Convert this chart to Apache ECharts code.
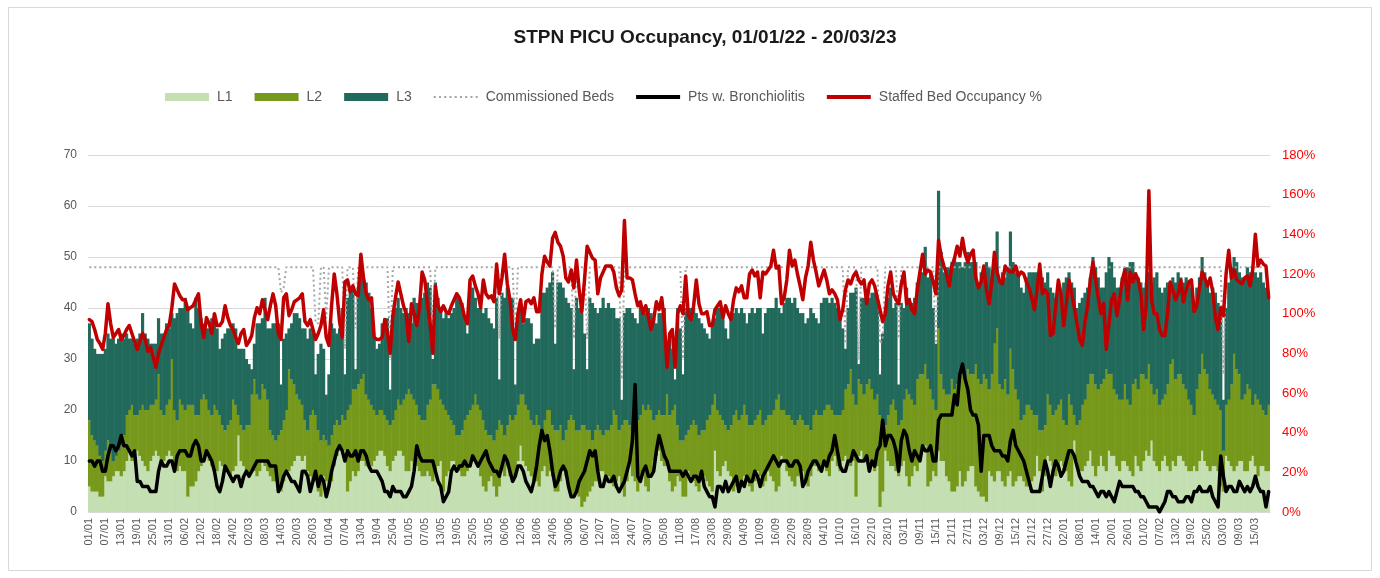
<!DOCTYPE html>
<html>
<head>
<meta charset="utf-8">
<script src="https://cdn.jsdelivr.net/npm/echarts@6/dist/echarts.min.js"></script>
<style>
html,body{margin:0;padding:0;background:#ffffff;}
#chart{width:1380px;height:578px;}
</style>
</head>
<body>
<div id="chart"></div>
<script>
// ---- Data (one value per day 01/01/22 - 20/03/23) ----
const titleText = 'STPN PICU Occupancy, 01/01/22 - 20/03/23';
const firstDay = Date.UTC(2022, 0, 1);
const dayCount = 444;
const categories = [];
for (let i = 0; i < dayCount; i++) {
  const d = new Date(firstDay + i * 86400000);
  categories.push(String(d.getUTCDate()).padStart(2, '0') + '/' + String(d.getUTCMonth() + 1).padStart(2, '0'));
}

const L1 = [
5,4,4,4,3,3,7,6,6,7,8,8,7,8,10,12,10,10,12,11,10,9,8,10,11,12,11,10,10,11,12,11,9,8,9,8,8,3,5,5,6,8,9,11,11,10,9,8,8,
10,9,8,8,7,8,9,15,10,9,8,7,8,8,7,8,10,9,8,7,6,6,5,4,6,8,8,9,10,11,11,10,11,8,7,6,6,4,3,7,6,5,6,9,11,12,12,12,
4,6,8,7,8,10,10,9,9,9,10,11,12,12,11,9,8,10,11,12,12,11,8,8,10,9,9,8,7,7,8,7,6,8,9,10,4,7,8,10,10,9,8,7,7,8,9,10,10,
9,7,5,4,6,7,5,3,5,8,7,9,7,6,7,10,13,10,9,8,7,6,6,5,8,9,7,8,7,4,4,6,8,7,5,4,3,4,3,1,2,3,4,5,6,6,8,8,7,
7,6,5,6,7,5,3,6,10,7,6,4,6,8,5,4,7,10,11,12,10,9,9,6,4,5,7,6,3,3,8,7,6,5,4,6,7,6,5,4,12,8,7,9,10,8,7,4,5,
5,6,7,6,5,4,6,8,7,5,6,8,7,6,4,5,11,10,8,7,6,5,7,8,8,6,5,7,9,9,8,9,10,8,7,10,11,9,8,10,11,10,9,10,3,11,12,10,11,
10,9,8,9,1,4,12,10,9,9,8,7,9,10,7,5,7,9,8,11,12,13,5,6,8,7,12,10,10,7,6,4,4,5,8,5,6,8,9,9,5,4,3,3,2,8,7,6,8,
8,6,5,7,8,5,6,7,7,6,5,5,6,7,11,8,4,7,11,10,9,7,8,10,9,8,6,5,14,10,8,8,9,10,12,9,7,9,11,9,8,12,11,11,9,8,10,10,
9,8,7,11,9,8,10,12,11,14,10,9,8,10,11,9,8,10,9,11,11,10,9,8,8,9,8,10,12,10,9,8,9,9,8,5,4,11,10,9,8,9,10,10,8,8,10,11,9,7,9,9,8,8
];

const L2 = [
13,11,10,9,8,7,5,8,6,3,3,4,6,7,9,8,11,9,7,9,11,11,12,11,10,10,16,10,9,10,10,19,11,10,13,13,12,18,16,16,13,11,13,12,11,10,10,13,12,
9,8,8,9,11,14,12,4,7,7,9,10,15,18,16,14,15,15,14,9,9,8,10,12,12,12,20,17,15,12,11,11,7,8,12,14,13,12,11,8,8,8,9,8,7,5,7,6,
16,15,16,17,17,16,17,14,13,12,10,8,8,8,8,9,9,8,9,10,9,11,15,16,13,13,12,11,11,11,13,15,19,17,15,12,17,13,11,8,7,6,7,9,11,11,11,11,13,
12,13,13,12,9,8,9,13,13,9,8,8,12,12,12,11,10,13,12,12,11,11,13,12,8,9,13,12,10,12,12,11,6,9,13,15,15,12,13,16,15,13,12,9,10,11,8,7,9,
9,11,15,13,9,12,15,12,7,9,10,14,13,13,15,17,13,8,8,8,9,10,14,13,16,16,10,8,11,12,8,10,12,12,11,10,9,12,14,17,11,12,12,9,7,8,10,15,15,
13,13,14,13,12,13,12,11,13,12,12,11,12,14,18,18,9,10,11,12,12,12,11,11,10,11,12,9,10,11,11,10,10,13,14,10,8,10,11,10,13,15,19,13,18,15,13,13,14,
16,15,14,14,18,14,5,9,12,13,12,10,9,12,17,18,15,12,18,16,15,16,21,18,14,13,24,17,14,16,17,22,20,20,19,22,20,20,18,18,24,22,22,24,24,16,20,27,28,
17,18,21,16,24,23,18,15,11,13,16,16,14,12,8,8,12,10,12,11,10,13,13,12,9,9,17,16,5,7,10,13,13,15,15,18,18,15,14,17,20,15,16,13,14,14,12,15,
13,13,18,15,15,19,17,14,18,11,13,15,13,12,12,16,21,20,17,16,16,15,15,14,13,10,16,17,19,18,18,16,14,13,13,15,8,10,12,16,23,19,17,12,15,17,14,10,14,15,12,11,11,13
];

const L3 = [
19,19,18,18,20,21,20,21,22,24,22,22,22,19,16,14,13,14,15,15,18,15,14,12,12,11,11,15,16,16,14,9,18,21,18,19,22,19,16,15,23,21,16,14,14,16,19,18,16,
13,17,19,19,18,15,15,13,15,16,13,12,5,7,14,15,13,18,14,20,22,23,22,9,16,15,8,11,14,16,16,15,18,18,17,15,8,15,19,17,9,14,22,19,17,19,21,9,
22,23,20,4,19,21,19,22,21,19,14,13,13,17,19,20,7,19,20,20,19,17,17,15,14,20,20,21,24,25,24,22,5,20,18,18,17,19,19,21,23,28,27,25,20,16,25,23,19,
19,20,21,24,23,22,22,26,8,26,27,27,22,24,6,17,17,14,17,18,19,16,15,17,27,25,24,25,30,17,29,28,30,26,23,21,10,26,24,22,18,12,26,27,24,22,24,27,24,
25,23,20,19,22,5,21,22,23,23,22,19,22,19,19,19,19,20,18,19,20,21,7,15,12,5,23,22,13,25,24,23,22,22,23,21,20,17,15,16,15,20,21,20,19,18,21,20,20,
21,21,18,18,22,23,21,21,20,18,21,21,21,20,20,17,19,21,23,23,23,25,22,20,21,20,21,24,20,18,18,22,22,21,20,22,22,21,20,16,8,15,15,20,23,3,17,19,16,
16,19,21,19,8,17,23,23,23,18,21,8,23,18,20,19,19,21,19,20,20,23,20,23,18,13,27,24,23,25,25,23,26,24,22,21,23,23,22,22,20,19,22,21,23,24,19,15,19,
20,23,20,25,23,21,23,25,26,24,25,26,27,28,28,30,30,28,24,23,24,22,22,21,27,29,24,24,25,23,23,21,21,19,19,23,23,22,19,18,19,23,22,22,21,22,24,23,
26,28,24,21,22,18,17,19,18,20,23,23,23,21,21,20,16,16,19,20,19,20,22,23,23,20,20,19,19,19,18,19,21,21,20,19,10,19,23,23,19,21,20,24,23,23,23,26,24,24,26,25,25,21
];

const commissionedBeds = [
48,48,48,48,48,48,48,48,48,48, 48,48,48,48,48,48,48,48,48,48, 48,48,48,48,48,48,48,48,48,48, 48,48,48,48,48,48,48,48,48,48,
48,48,48,48,48,48,48,48,48,48, 48,48,48,48,48,48,48,48,48,48, 48,48,48,48,48,48,48,48,48,48, 48,48,43,44,48,48,48,48,48,48,
48,48,48,48,48,37,37,48,48,38, 48,48,48,48,48,48,32,48,48,48, 36,48,48,48,48,48,48,48,48,48, 48,48,48,30,48,48,48,48,48,48,
48,48,48,48,48,48,48,48,48,36, 48,48,48,48,48,48,48,48,48,48, 48,48,48,48,48,48,48,48,48,48, 48,48,48,48,34,48,48,48,48,48,
34,48,48,48,48,48,48,48,48,48, 48,48,48,48,48,36,48,48,48,48, 48,48,34,48,48,48,48,34,48,48, 48,48,48,48,48,48,48,48,48,48,
26,48,48,48,48,48,48,48,48,48, 48,48,48,48,48,48,48,48,48,48, 48,48,48,30,48,48,48,48,48,48, 48,48,48,48,48,48,48,48,48,48,
48,48,48,48,48,48,48,48,48,48, 48,48,48,48,48,48,48,48,48,48, 48,48,48,48,48,48,48,48,48,48, 48,48,48,48,48,48,48,48,48,48,
48,48,48,48,33,48,48,48,48,30, 48,48,48,48,48,48,48,33,34,48, 48,48,48,48,34,48,48,48,48,48, 48,48,48,48,48,48,48,48,33,48,
48,48,48,48,48,48,48,48,48,48, 48,48,48,48,48,48,48,48,48,48, 48,48,48,48,48,48,48,48,48,48, 48,48,48,48,48,48,48,48,48,48,
48,48,48,48,48,48,48,48,48,48, 48,48,48,48,48,48,48,48,48,48, 48,48,48,48,48,48,48,48,48,48, 48,48,48,48,48,48,48,48,48,48,
48,48,48,48,48,48,48,48,48,48, 48,48,48,48,48,48,48,48,48,48, 48,48,48,48,48,48,27,48,48,48, 48,48,48,48,48,48,48,48,48,48,
48,48,48,48
];

const bronchiolitis = [
10,10,9,10,10,8,8,11,13,13,12,13,15,13,13,12,11,12,6,6,5,5,5,4,4,4,8,10,9,9,10,10,8,11,12,12,12,11,11,13,14,13,10,10,12,11,10,8,5,
4,6,9,8,7,6,7,7,5,7,8,7,8,9,10,10,10,10,10,9,9,9,4,5,7,8,7,6,6,5,4,8,8,7,4,6,8,5,7,6,3,5,8,10,12,13,12,10,
12,11,11,12,10,12,12,11,9,8,8,8,7,6,4,4,3,5,4,4,4,3,3,4,5,8,13,11,10,10,10,10,10,8,6,5,2,3,4,8,9,8,9,9,10,9,9,11,10,
9,10,11,12,10,9,8,8,7,9,11,10,8,6,7,9,9,8,6,5,4,6,9,13,16,14,15,12,8,5,6,8,9,8,5,3,3,4,6,7,8,10,12,11,12,8,5,5,7,
6,6,7,5,4,5,6,8,10,14,25,7,6,8,9,7,7,8,12,15,13,11,10,8,8,8,8,8,7,8,7,6,7,7,6,8,5,4,3,3,1,5,5,4,6,4,5,6,7,
4,6,5,7,6,6,8,7,5,7,8,9,10,11,10,9,10,10,10,9,9,10,10,9,5,6,8,9,10,10,9,8,10,9,11,12,15,12,9,8,8,10,10,12,11,10,10,10,11,
8,10,9,12,13,18,13,15,15,14,12,8,14,16,15,12,10,12,11,10,13,12,12,13,10,10,18,19,19,19,19,19,23,21,27,29,26,24,20,19,19,17,8,15,15,15,13,12,12,
12,11,11,10,14,16,13,12,11,10,8,6,4,4,4,4,7,10,8,5,8,10,9,7,8,10,12,12,11,9,7,6,6,6,5,5,4,3,4,4,3,4,3,2,4,6,5,5,
5,5,5,4,4,3,3,2,1,1,1,1,0,1,2,4,4,3,3,2,2,2,3,3,2,4,4,5,4,4,4,5,3,2,1,11,7,4,5,5,4,4,6,5,4,5,4,5,7,5,4,4,1,4
];

const occupancyPct = [
97,96,92,87,85,82,90,105,95,88,90,92,87,89,92,94,90,86,82,86,90,87,81,83,78,73,80,84,88,92,94,103,115,112,109,107,107,102,103,104,107,110,95,88,98,95,90,100,94,
94,96,104,98,94,92,88,85,90,92,84,86,89,98,103,100,107,102,97,104,110,104,90,87,108,110,99,102,106,107,108,110,96,94,97,92,87,90,94,102,88,84,104,120,110,96,88,116,
117,111,114,110,109,130,118,110,107,108,88,87,87,88,97,90,80,99,108,116,110,104,100,86,105,100,94,103,121,117,105,95,80,114,104,101,104,101,100,104,107,110,108,104,98,95,117,119,114,
110,103,117,110,108,109,106,125,110,118,130,115,107,92,87,100,107,96,106,107,105,108,101,101,120,129,126,124,138,141,136,134,129,118,116,122,113,127,112,101,117,134,131,128,127,110,118,121,124,
124,124,121,113,109,112,147,118,118,117,110,104,106,100,104,98,92,97,106,102,108,96,73,90,92,73,100,104,100,119,99,97,104,117,105,100,100,101,94,94,102,104,106,98,104,100,97,107,113,
111,114,108,108,120,122,119,121,108,121,120,122,124,132,123,124,105,108,117,132,124,127,120,114,107,118,124,136,127,121,114,118,122,117,110,112,110,107,97,102,112,117,115,119,121,117,115,117,105,
115,117,114,108,102,96,100,114,121,110,107,105,115,121,105,107,102,100,112,121,130,120,122,121,116,110,137,129,124,120,114,124,128,134,129,138,130,126,130,132,118,113,116,124,112,105,116,131,121,
116,115,124,122,121,121,124,119,121,120,116,113,108,102,112,125,110,112,110,89,90,104,117,110,94,105,117,110,103,95,87,84,96,104,117,126,117,108,100,105,82,95,107,110,99,107,117,122,
107,121,116,120,117,110,92,104,162,107,100,100,92,89,89,100,116,112,107,110,117,106,112,116,117,101,104,113,121,118,114,118,111,98,92,103,99,120,132,118,122,117,116,115,118,119,114,122,140,124,127,125,124,108
];

const leftTicks = {min: 0, max: 70, interval: 10};
const rightTicks = {min: 0, max: 180, interval: 20};

// ---- Chart ----
const FONT = 'Liberation Sans, Arial, sans-serif';
const solidIcon = 'path://M0 0H44V4H0Z';
const dottedIcon = 'path://M0 0h2v2h-2z M5 0h2v2h-2z M10 0h2v2h-2z M15 0h2v2h-2z M20 0h2v2h-2z M25 0h2v2h-2z M30 0h2v2h-2z M35 0h2v2h-2z M40 0h2v2h-2z';
const chart = echarts.init(document.getElementById('chart'), null, {renderer: 'canvas'});
chart.setOption({
  animation: false,
  backgroundColor: '#ffffff',
  textStyle: {fontFamily: FONT},
  title: {
    text: titleText,
    left: 700, top: 23, textAlign: 'center',
    textStyle: {fontFamily: FONT, fontSize: 19, fontWeight: 'bold', color: '#1a1a1a'}
  },
  graphic: [{
    type: 'rect', silent: true, z: -10,
    shape: {x: 8.5, y: 7.5, width: 1363, height: 563},
    style: {fill: 'none', stroke: '#d9d9d9', lineWidth: 1}
  }],
  legend: {
    left: 165, top: 90, padding: 0,
    itemWidth: 44, itemHeight: 8, itemGap: 22,
    symbolKeepAspect: true,
    textStyle: {fontFamily: FONT, fontSize: 14, color: '#595959', padding: [0, 0, 0, 3]},
    data: [
      {name: 'L1', icon: 'rect'},
      {name: 'L2', icon: 'rect'},
      {name: 'L3', icon: 'rect'},
      {name: 'Commissioned Beds', icon: dottedIcon},
      {name: 'Pts w. Bronchiolitis', icon: solidIcon},
      {name: 'Staffed Bed Occupancy %', icon: solidIcon}
    ]
  },
  grid: {left: 88, right: 110, top: 155, bottom: 66, containLabel: false},
  xAxis: {
    type: 'category',
    data: categories,
    boundaryGap: true,
    axisLine: {show: true, lineStyle: {color: '#d9d9d9'}},
    axisTick: {show: false},
    axisLabel: {rotate: 90, interval: 5, fontSize: 11, color: '#595959', margin: 6, fontFamily: FONT}
  },
  yAxis: [{
    type: 'value', min: leftTicks.min, max: leftTicks.max, interval: leftTicks.interval,
    axisLine: {show: false}, axisTick: {show: false},
    axisLabel: {fontSize: 12, color: '#595959', margin: 11, fontFamily: FONT},
    splitLine: {show: true, lineStyle: {color: '#d9d9d9', width: 1}}
  }, {
    type: 'value', min: rightTicks.min, max: rightTicks.max, interval: rightTicks.interval,
    position: 'right',
    axisLine: {show: false}, axisTick: {show: false},
    axisLabel: {fontSize: 13, color: '#ff0000', margin: 12, formatter: '{value}%', fontFamily: FONT},
    splitLine: {show: false}
  }],
  series: [
    {name: 'L1', type: 'bar', stack: 'occ', data: L1, barWidth: 3.2,
     color: '#c4dfb2', itemStyle: {color: '#c4dfb2'}},
    {name: 'L2', type: 'bar', stack: 'occ', data: L2, barWidth: 3.2,
     color: '#76981b', itemStyle: {color: '#76981b'}},
    {name: 'L3', type: 'bar', stack: 'occ', data: L3, barWidth: 3.2,
     color: '#21695b', itemStyle: {color: '#21695b'}},
    {name: 'Commissioned Beds', type: 'line', data: commissionedBeds, symbol: 'none', z: 3,
     color: '#a6a6a6', lineStyle: {color: '#a6a6a6', width: 2, type: [2, 3]}},
    {name: 'Pts w. Bronchiolitis', type: 'line', data: bronchiolitis, symbol: 'none', z: 4,
     color: '#000000', lineStyle: {color: '#000000', width: 3.5, join: 'round', cap: 'round'}},
    {name: 'Staffed Bed Occupancy %', type: 'line', yAxisIndex: 1, data: occupancyPct, symbol: 'none', z: 5,
     color: '#c00000', lineStyle: {color: '#c00000', width: 3.5, join: 'round', cap: 'round'}}
  ]
});
</script>
</body>
</html>
